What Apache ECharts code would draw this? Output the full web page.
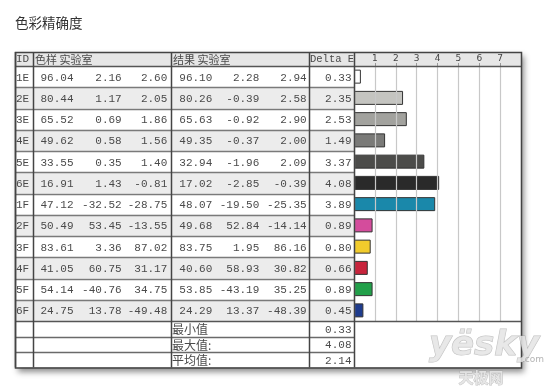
<!DOCTYPE html>
<html><head><meta charset="utf-8">
<script src="https://cdn.jsdelivr.net/npm/echarts@6/dist/echarts.min.js"></script>
<style>html,body{margin:0;padding:0;background:#fff}#c{width:550px;height:391px}</style>
</head><body><div id="c"></div>
<script>
var title = '色彩精确度';
var ids = ['1E','2E','3E','4E','5E','6E','1F','2F','3F','4F','5F','6F'];
var refL = [96.04,80.44,65.52,49.62,33.55,16.91,47.12,50.49,83.61,41.05,54.14,24.75];
var refA = [2.16,1.17,0.69,0.58,0.35,1.43,-32.52,53.45,3.36,60.75,-40.76,13.78];
var refB = [2.60,2.05,1.86,1.56,1.40,-0.81,-28.75,-13.55,87.02,31.17,34.75,-49.48];
var resL = [96.10,80.26,65.63,49.35,32.94,17.02,48.07,49.68,83.75,40.60,53.85,24.29];
var resA = [2.28,-0.39,-0.92,-0.37,-1.96,-2.85,-19.50,52.84,1.95,58.93,-43.19,13.37];
var resB = [2.94,2.58,2.90,2.00,2.09,-0.39,-25.35,-14.14,86.16,30.82,35.25,-48.39];
var deltaE = [0.33,2.35,2.53,1.49,3.37,4.08,3.89,0.89,0.80,0.66,0.89,0.45];
var headers = ['ID','色样 实验室','结果 实验室','Delta E'];
var summaryLabels = ['最小值','最大值:','平均值:'];
var summaryValues = [0.33,4.08,2.14];
var axisTicks = [0,1,2,3,4,5,6,7,8];

var barColors = ['#ffffff','#c4c4c0','#a2a29e','#7a7a78','#4c4c4a','#2a2a2a','#1a88aa','#d44c9c','#f2cc2c','#c8243c','#22a04a','#1e3c8e'];

// layout
var TL = 15, TR = 521, TT = 52, HH = 14, RH = 21.25, SH = 15.5;
var colX = [15, 33, 171, 309, 354];
var dataTop = TT + HH;
var dataBot = dataTop + RH * ids.length;
var TB = dataBot + SH * 3;
var FONT_M = '"Liberation Mono", "DejaVu Sans Mono", monospace';
var FONT_C = '"Noto Sans CJK SC", sans-serif';
var TXT = '#4a4a4a';

var g = [];
g.push({type:'rect', z:-5, shape:{x:TL, y:TT, width:TR-TL, height:TB-TT},
  style:{fill:'#fff', shadowBlur:6, shadowOffsetX:3, shadowOffsetY:4, shadowColor:'rgba(0,0,0,0.45)'}});
g.push({type:'rect', z:-4, shape:{x:TL, y:TT, width:TR-TL, height:HH}, style:{fill:'#e6e6e6'}});
ids.forEach(function(id,i){
  if (i % 2 === 1) g.push({type:'rect', z:-4, shape:{x:TL, y:dataTop+i*RH, width:colX[4]-TL, height:RH}, style:{fill:'#ececec'}});
});
for (var i = 1; i < ids.length; i++) {
  var y = Math.round(dataTop + i*RH) + 0.5;
  g.push({type:'line', z:20, shape:{x1:TL, y1:y, x2:colX[4], y2:y}, style:{stroke:'#7a7a7a', lineWidth:1.3}});
}
for (var j = 1; j < 3; j++) {
  var y2 = Math.round(dataBot + j*SH) + 0.5;
  g.push({type:'line', z:20, shape:{x1:TL, y1:y2, x2:colX[4], y2:y2}, style:{stroke:'#6a6a6a', lineWidth:1.3}});
}
g.push({type:'line', z:21, shape:{x1:TL, y1:dataTop+0.5, x2:TR, y2:dataTop+0.5}, style:{stroke:'#555', lineWidth:1.5}});
g.push({type:'line', z:21, shape:{x1:TL, y1:dataBot+0.5, x2:TR, y2:dataBot+0.5}, style:{stroke:'#555', lineWidth:1.5}});
colX.forEach(function(x){
  g.push({type:'line', z:21, shape:{x1:x+0.5, y1:TT, x2:x+0.5, y2:TB}, style:{stroke:'#444', lineWidth:1.5}});
});
g.push({type:'rect', z:22, shape:{x:TL+0.5, y:TT+0.5, width:TR-TL, height:TB-TT}, style:{fill:'none', stroke:'#444', lineWidth:1.5}});

g.push({type:'text', z:30, style:{x:16, y:TT+HH/2+0.5, text:headers[0], font:'11px '+FONT_M, fill:TXT, verticalAlign:'middle'}});
g.push({type:'text', z:30, style:{x:35, y:TT+HH/2+0.5, text:headers[1], font:'11px '+FONT_C, fill:TXT, verticalAlign:'middle'}});
g.push({type:'text', z:30, style:{x:173, y:TT+HH/2+0.5, text:headers[2], font:'11px '+FONT_C, fill:TXT, verticalAlign:'middle'}});
g.push({type:'text', z:30, style:{x:310, y:TT+HH/2+0.5, text:headers[3], font:'10.5px '+FONT_M, fill:TXT, verticalAlign:'middle'}});

var rightCols = [[refL,73.5],[refA,121.7],[refB,167.3],[resL,212.3],[resA,259.3],[resB,306.7],[deltaE,351.5]];
ids.forEach(function(id,i){
  var cy = dataTop + i*RH + RH/2 + 1;
  g.push({type:'text', z:30, style:{x:16, y:cy, text:id, font:'11px '+FONT_M, fill:TXT, verticalAlign:'middle'}});
  rightCols.forEach(function(c){
    g.push({type:'text', z:30, style:{x:c[1], y:cy, text:c[0][i].toFixed(2), font:'11px '+FONT_M, fill:TXT, align:'right', verticalAlign:'middle'}});
  });
});
summaryLabels.forEach(function(s,j){
  var cy = dataBot + j*SH + SH/2 + 1;
  g.push({type:'text', z:30, style:{x:172, y:cy, text:s, font:'12px '+FONT_C, fill:TXT, verticalAlign:'middle'}});
  g.push({type:'text', z:30, style:{x:351.5, y:cy, text:summaryValues[j].toFixed(2), font:'11px '+FONT_M, fill:TXT, align:'right', verticalAlign:'middle'}});
});

g.push({type:'text', z:30, style:{x:15, y:23, text:title, font:'13.5px '+FONT_C, fill:'#333', verticalAlign:'middle'}});

// watermark
g.push({type:'text', z:40, style:{x:484, y:346, text:'yësky', font:'italic bold 34px "DejaVu Sans", sans-serif', fill:'rgba(228,228,228,0.85)', stroke:'rgba(150,150,150,0.6)', lineWidth:1, align:'center', verticalAlign:'middle'}});
g.push({type:'text', z:40, style:{x:522, y:360, text:'.com', font:'9px "DejaVu Sans", sans-serif', fill:'rgba(160,160,160,0.8)', verticalAlign:'middle'}});
g.push({type:'text', z:40, style:{x:481, y:377, text:'天极网', font:'bold 15px "Noto Sans CJK SC", sans-serif', fill:'rgba(228,228,228,0.9)', stroke:'rgba(150,150,150,0.6)', lineWidth:0.8, align:'center', verticalAlign:'middle'}});

var chart = echarts.init(document.getElementById('c'), null, {renderer:'canvas'});
chart.setOption({
  animation:false,
  backgroundColor:'#fff',
  grid:{left:colX[4], right:550-TR, top:dataTop, height:dataBot-dataTop, containLabel:false},
  xAxis:{type:'value', position:'top', min:axisTicks[0], max:axisTicks[axisTicks.length-1], interval:1, z:5,
    axisLine:{show:false},
    axisTick:{show:true, length:3, lineStyle:{color:'#999'}},
    axisLabel:{margin:3, fontSize:9, color:'#444', fontFamily:'"DejaVu Sans", sans-serif',
      formatter:function(v){ return (v===axisTicks[0]||v===axisTicks[axisTicks.length-1]) ? '' : String(v); }},
    splitLine:{show:true, lineStyle:{color:'#c8c8c8', width:1.2}}},
  yAxis:{type:'category', data:ids, inverse:true, axisLine:{show:false}, axisTick:{show:false}, axisLabel:{show:false}, splitLine:{show:false}},
  series:[{type:'bar', data:deltaE.map(function(v,i){return {value:v, itemStyle:{color:barColors[i]}};}),
    barWidth:14, itemStyle:{borderColor:'#333', borderWidth:1}, z:3}],
  graphic:{elements:g}
});
</script></body></html>
